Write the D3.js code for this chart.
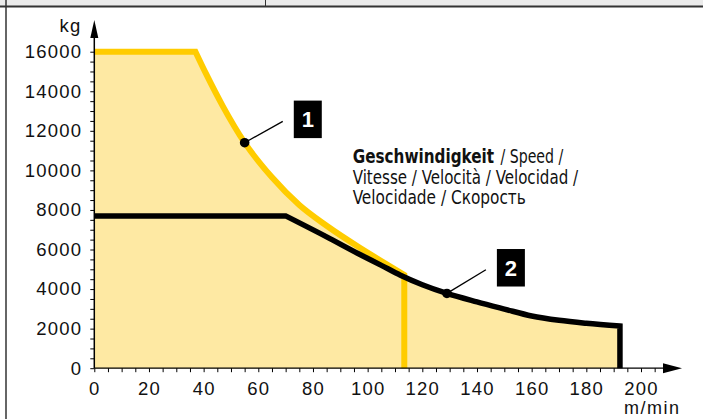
<!DOCTYPE html>
<html>
<head>
<meta charset="utf-8">
<script src="https://cdn.jsdelivr.net/npm/d3@7/dist/d3.min.js"></script>
<style>
    body { margin: 0; background: #fff; }
    svg { display: block; }
</style>
</head>
<body>
<svg id="chart"></svg>
<script>
// curve 1 (yellow) - speed in m/min, load in kg
var speed1 = [0, 37, 41, 47, 55, 65, 75, 85, 97, 105, 113.4];
var load1 = [16000, 16000, 14850, 13250, 11400, 9650, 8250, 7200, 6100, 5420, 4720];

// curve 2 (black)
var speed2 = [0, 70, 85, 97, 105, 112, 120, 129, 140, 150, 160, 170, 180, 192.3];
var load2 = [7700, 7700, 6640, 5760, 5200, 4700, 4220, 3780, 3350, 2990, 2640, 2420, 2270, 2130];

// tick labels
var xTicks = [0, 20, 40, 60, 80, 100, 120, 140, 160, 180, 200];
var yTicks = [0, 2000, 4000, 6000, 8000, 10000, 12000, 14000, 16000];

// callouts: number, point on the curve, box centre
var calloutLabels = ["1", "2"];
var calloutSpeed = [55, 129];
var calloutLoad = [11400, 3780];
var calloutBoxSpeed = [78.1, 152.4];
var calloutBoxLoad = [12580, 5077];

var unitX = "m/min";
var unitY = "kg";
var titleBold = "Geschwindigkeit";
var titleLines = ["/ Speed /", "Vitesse / Velocità / Velocidad /", "Velocidade / Скорость"];

var width = 703, height = 419;
var yellow = "#ffcc00", fillColor = "#fee9a3";
var axisFont = "'Liberation Sans', Arial, sans-serif";

var svg = d3.select("#chart")
    .attr("width", width)
    .attr("height", height);

// header band and frame
svg.append("rect").attr("x", 0).attr("y", 0).attr("width", width).attr("height", 6).attr("fill", "#ebebeb");
svg.append("line").attr("x1", 0).attr("x2", width).attr("y1", 6.5).attr("y2", 6.5)
    .attr("stroke", "#333").attr("stroke-width", 2);
svg.append("line").attr("x1", 265.5).attr("x2", 265.5).attr("y1", 0).attr("y2", 6)
    .attr("stroke", "#333").attr("stroke-width", 1);
svg.append("line").attr("x1", 6).attr("x2", 6).attr("y1", 0).attr("y2", height)
    .attr("stroke", "#333").attr("stroke-width", 1.5);

// scales
var x = d3.scaleLinear().domain([0, 200]).range([94.3, 641]);
var y = d3.scaleLinear().domain([0, 16000]).range([368.2, 51.7]);

// flat segment + monotone curve + drop to the axis
function curvePath(speeds, loads) {
    var pts = speeds.map(function (s, i) { return [x(s), y(loads[i])]; });
    var curve = d3.line().curve(d3.curveMonotoneX)(pts.slice(1));
    var last = pts[pts.length - 1];
    return "M" + pts[0][0] + "," + pts[0][1] + curve.replace(/^M/, "L") + "L" + last[0] + "," + y(0);
}

var path1 = curvePath(speed1, load1);
var path2 = curvePath(speed2, load2);

// filled area under both curves
[path1, path2].forEach(function (p) {
    svg.append("path")
        .attr("d", p + "L" + x(0) + "," + y(0) + "Z")
        .attr("fill", fillColor);
});

svg.append("path")
    .attr("d", path1)
    .attr("fill", "none")
    .attr("stroke", yellow)
    .attr("stroke-width", 6);

svg.append("path")
    .attr("d", path2)
    .attr("fill", "none")
    .attr("stroke", "#000")
    .attr("stroke-width", 5.5);

// y axis (labels every 2000, small ticks every 500)
var yAxis = d3.axisLeft(y)
    .tickValues(d3.range(0, 16001, 500))
    .tickSize(4)
    .tickPadding(8)
    .tickFormat(function (d) { return yTicks.indexOf(d) >= 0 ? d : ""; });
var gy = svg.append("g")
    .attr("transform", "translate(" + x(0) + ",0)")
    .call(yAxis);

// x axis (labels every 20, small ticks every 5)
var xAxis = d3.axisBottom(x)
    .tickValues(d3.range(0, 206, 5))
    .tickSize(4)
    .tickPadding(10)
    .tickFormat(function (d) { return xTicks.indexOf(d) >= 0 ? d : ""; });
var gx = svg.append("g")
    .attr("transform", "translate(0," + y(0) + ")")
    .call(xAxis);

[gx, gy].forEach(function (g) {
    g.select(".domain").remove();
    g.selectAll("line").attr("stroke", "#000").attr("stroke-width", 1);
    g.selectAll("text")
        .attr("fill", "#111")
        .style("font-family", axisFont)
        .style("font-size", "18.5px")
        .style("letter-spacing", "1.2px");
});

// axis lines with arrow heads
svg.append("line").attr("x1", x(0)).attr("x2", x(0)).attr("y1", y(0)).attr("y2", 36)
    .attr("stroke", "#000").attr("stroke-width", 1.5);
svg.append("path")
    .attr("d", "M" + (x(0) - 4) + ",38L" + (x(0) + 4) + ",38L" + x(0) + ",20Z")
    .attr("fill", "#000");
svg.append("line").attr("x1", x(0)).attr("x2", 664).attr("y1", y(0)).attr("y2", y(0))
    .attr("stroke", "#000").attr("stroke-width", 1.2);
svg.append("path")
    .attr("d", "M663," + (y(0) - 5) + "L663," + (y(0) + 5) + "L682," + y(0) + "Z")
    .attr("fill", "#000");

// units
svg.append("text")
    .text(unitY)
    .attr("x", 81.5).attr("y", 32)
    .attr("text-anchor", "end")
    .attr("fill", "#111")
    .style("font-family", axisFont).style("font-size", "18.5px").style("letter-spacing", "1.2px");
svg.append("text")
    .text(unitX)
    .attr("x", 624).attr("y", 413.5)
    .attr("fill", "#111")
    .style("font-family", axisFont).style("font-size", "18px").style("letter-spacing", "1.5px");

// callouts
var boxW = 28, boxH = 37.5;
calloutLabels.forEach(function (lbl, i) {
    var px = x(calloutSpeed[i]), py = y(calloutLoad[i]);
    var bx = x(calloutBoxSpeed[i]), by = y(calloutBoxLoad[i]);

    svg.append("line")
        .attr("x1", px).attr("y1", py)
        .attr("x2", bx - boxW / 2 - 11).attr("y2", by + 2)
        .attr("stroke", "#000").attr("stroke-width", 1.3);
    svg.append("circle")
        .attr("cx", px).attr("cy", py).attr("r", 4.8)
        .attr("fill", "#000");

    svg.append("rect")
        .attr("x", bx - boxW / 2).attr("y", by - boxH / 2)
        .attr("width", boxW).attr("height", boxH)
        .attr("fill", "#000");
    svg.append("text")
        .text(lbl)
        .attr("x", bx).attr("y", by + 8)
        .attr("text-anchor", "middle")
        .attr("fill", "#fff")
        .style("font-family", axisFont)
        .style("font-weight", "bold")
        .style("font-size", "22px");
});

// speed caption (first line split into bold and regular parts),
// squeezed horizontally to the narrow width of the original type
var captionFont = "'Liberation Sans Narrow', 'DejaVu Sans Condensed', 'Liberation Sans', sans-serif";
var captionX = [352.7, 500.5, 352.7, 352.7];
var captionY = [162.7, 162.7, 183.5, 204.3];
var captionW = [141.5, 62.8, 225.6, 173.3];
var captionText = [titleBold].concat(titleLines);

captionText.forEach(function (t, i) {
    var txt = svg.append("text")
        .text(t)
        .attr("x", 0).attr("y", 0)
        .attr("fill", "#111")
        .style("font-family", captionFont)
        .style("font-weight", i === 0 ? "bold" : "normal")
        .style("font-size", "19px");
    var natural = txt.node().getComputedTextLength();
    var sx = captionW[i] / natural;
    txt.attr("transform", "translate(" + captionX[i] + "," + captionY[i] + ") scale(" + sx + ",1)");
});
</script>
</body>
</html>
